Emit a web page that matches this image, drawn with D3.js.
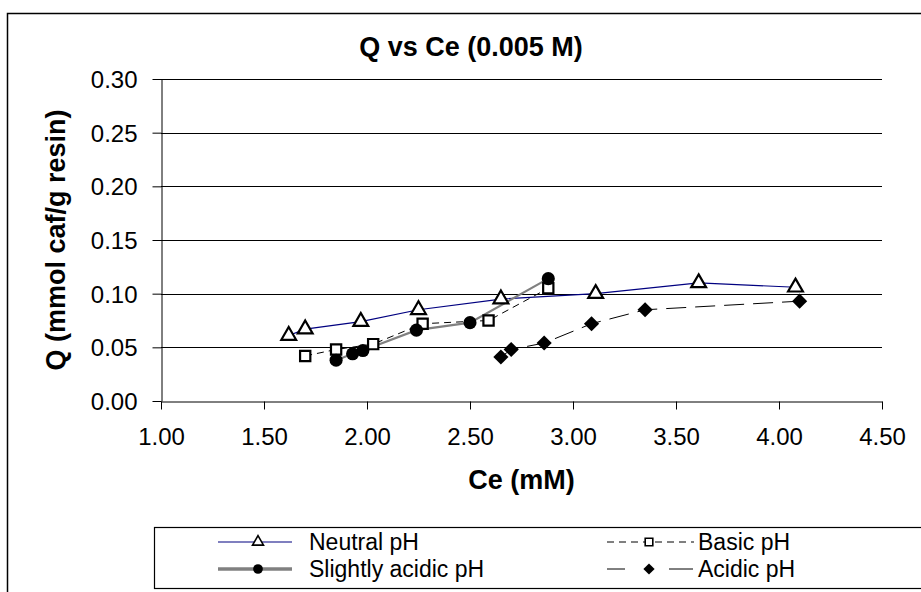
<!DOCTYPE html>
<html>
<head>
<meta charset="utf-8">
<script src="https://cdn.jsdelivr.net/npm/d3@7"></script>
<style>
  body { margin: 0; background: #fff; }
  text { font-family: "Liberation Sans", Arial, sans-serif; }
</style>
</head>
<body>
<div id="vis"></div>
<script>
const visWidth = 921;
const visHeight = 592;

const margin = {top: 79, left: 161, right: 39, bottom: 191};
const width = visWidth - margin.left - margin.right;
const height = visHeight - margin.top - margin.bottom;

const xTicks = [1.0, 1.5, 2.0, 2.5, 3.0, 3.5, 4.0, 4.5];
const yTicks = [0.00, 0.05, 0.10, 0.15, 0.20, 0.25, 0.30];

const seriesNames = ['Neutral pH', 'Basic pH', 'Slightly acidic pH', 'Acidic pH'];

const neutralX = [1.62, 1.70, 1.97, 2.25, 2.65, 3.11, 3.61, 4.08];
const neutralY = [0.061, 0.067, 0.074, 0.085, 0.095, 0.100, 0.110, 0.106];

const basicX = [1.70, 1.85, 2.03, 2.27, 2.59, 2.88];
const basicY = [0.042, 0.048, 0.053, 0.072, 0.075, 0.105];

const slightX = [1.85, 1.93, 1.98, 2.24, 2.50, 2.88];
const slightY = [0.038, 0.044, 0.047, 0.066, 0.073, 0.114];

const acidicX = [2.65, 2.70, 2.86, 3.09, 3.35, 4.10];
const acidicY = [0.041, 0.048, 0.054, 0.072, 0.085, 0.093];

const styles = [
  {stroke: '#000080', width: 1.2, dash: null, legendDash: null, legendWidth: 1.2,
   symbol: d3.symbolTriangle, size: 95, fill: '#fff', rotate: 0},
  {stroke: '#000', width: 1, dash: '7,5', legendDash: '7,5', legendWidth: 1,
   symbol: d3.symbolSquare, size: 105, fill: '#fff', rotate: 0},
  {stroke: '#808080', width: 2.2, dash: null, legendDash: null, legendWidth: 3.5,
   symbol: d3.symbolCircle, size: 135, fill: '#000', rotate: 0},
  {stroke: '#000', width: 1, dash: '20,9', legendDash: '18,44,24', legendWidth: 1,
   symbol: d3.symbolSquare, size: 115, fill: '#000', rotate: 45}
];

const series = [
  neutralX.map((x, i) => ({x, y: neutralY[i]})),
  basicX.map((x, i) => ({x, y: basicY[i]})),
  slightX.map((x, i) => ({x, y: slightY[i]})),
  acidicX.map((x, i) => ({x, y: acidicY[i]}))
];

const root = d3.select('#vis').append('svg')
    .attr('width', visWidth)
    .attr('height', visHeight);

// outer chart frame (right and bottom edges fall outside the picture)
root.append('rect')
    .attr('x', 7.5).attr('y', 13.5)
    .attr('width', 930).attr('height', 600)
    .attr('fill', 'none').attr('stroke', '#000').attr('stroke-width', 1.5);

root.append('text')
    .attr('x', 471).attr('y', 56)
    .attr('text-anchor', 'middle')
    .attr('font-size', 27).attr('font-weight', 'bold')
    .text('Q vs Ce (0.005 M)');

const svg = root.append('g')
    .attr('transform', `translate(${margin.left}, ${margin.top})`);

const x = d3.scaleLinear().domain([1, 4.5]).range([0, width]);
const y = d3.scaleLinear().domain([0, 0.3]).range([height, 0]);

// gridlines
svg.append('g')
  .selectAll('line')
  .data(yTicks.slice(1))
  .join('line')
    .attr('x1', 0).attr('x2', width)
    .attr('y1', d => Math.round(y(d)) + 0.5).attr('y2', d => Math.round(y(d)) + 0.5)
    .attr('stroke', '#000').attr('stroke-width', 1);

const yAxis = svg.append('g')
    .attr('transform', 'translate(0.5, 0)')
    .call(d3.axisLeft(y).tickValues(yTicks).tickFormat(d3.format('.2f')).tickSize(9).tickPadding(15).tickSizeOuter(0));

const xAxis = svg.append('g')
    .attr('transform', `translate(0, ${height + 0.5})`)
    .call(d3.axisBottom(x).tickValues(xTicks).tickFormat(d3.format('.2f')).tickSize(8).tickPadding(18).tickSizeOuter(0));

[yAxis, xAxis].forEach(a => {
  a.selectAll('text').attr('font-size', 24).attr('fill', '#000')
      .attr('font-family', '"Liberation Sans", Arial, sans-serif');
  a.selectAll('line, path').attr('stroke', '#000');
});
yAxis.selectAll('text').attr('dy', '0.35em');
xAxis.selectAll('text').attr('dy', '0.72em');

svg.append('text')
    .attr('x', width / 2).attr('y', 410)
    .attr('text-anchor', 'middle')
    .attr('font-size', 27).attr('font-weight', 'bold')
    .text('Ce (mM)');

svg.append('text')
    .attr('transform', `translate(${65 - margin.left}, ${height / 2}) rotate(-90)`)
    .attr('text-anchor', 'middle')
    .attr('font-size', 27).attr('font-weight', 'bold')
    .text('Q (mmol caf/g resin)');

const line = d3.line().x(d => x(d.x)).y(d => y(d.y));

series.forEach((data, i) => {
  const s = styles[i];
  svg.append('path')
      .datum(data)
      .attr('d', line)
      .attr('fill', 'none')
      .attr('stroke', s.stroke)
      .attr('stroke-width', s.width)
      .attr('stroke-dasharray', s.dash);
});

series.forEach((data, i) => {
  const s = styles[i];
  svg.append('g')
    .selectAll('path')
    .data(data)
    .join('path')
      .attr('transform', d => `translate(${x(d.x)}, ${y(d.y)}) rotate(${s.rotate})`)
      .attr('d', d3.symbol(s.symbol, s.size))
      .attr('fill', s.fill)
      .attr('stroke', '#000')
      .attr('stroke-width', s.fill === '#fff' ? 2.2 : 0);
});

// legend
const legend = root.append('g');
legend.append('rect')
    .attr('x', 154.5).attr('y', 527.5)
    .attr('width', 780).attr('height', 61)
    .attr('fill', 'none').attr('stroke', '#000').attr('stroke-width', 1.2);

const legendPos = [
  {x1: 218, x2: 292, mx: 258, tx: 309, y: 542},
  {x1: 607, x2: 694, mx: 649, tx: 698, y: 542},
  {x1: 218, x2: 292, mx: 258, tx: 309, y: 569},
  {x1: 607, x2: 694, mx: 649, tx: 698, y: 569}
];

seriesNames.forEach((name, i) => {
  const s = styles[i];
  const p = legendPos[i];
  legend.append('line')
      .attr('x1', p.x1).attr('x2', p.x2)
      .attr('y1', p.y).attr('y2', p.y)
      .attr('stroke', s.stroke)
      .attr('stroke-width', s.legendWidth)
      .attr('stroke-dasharray', s.legendDash);
  legend.append('path')
      .attr('transform', `translate(${p.mx}, ${p.y}) rotate(${s.rotate})`)
      .attr('d', d3.symbol(s.symbol, s.size * 0.55))
      .attr('fill', s.fill)
      .attr('stroke', '#000')
      .attr('stroke-width', s.fill === '#fff' ? 1.6 : 0);
  legend.append('text')
      .attr('x', p.tx).attr('y', p.y)
      .attr('dy', '0.35em')
      .attr('font-size', 23)
      .text(name);
});
</script>
</body>
</html>
